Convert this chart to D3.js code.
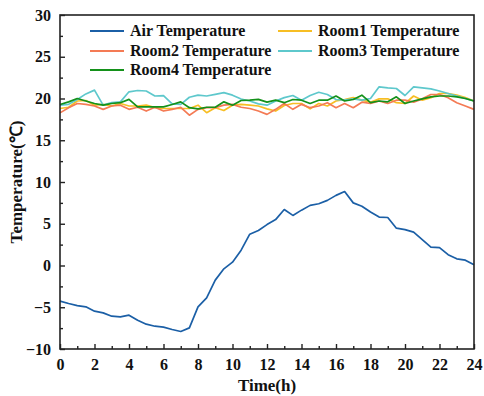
<!DOCTYPE html>
<html>
<head>
<meta charset="utf-8">
<script src="https://cdn.jsdelivr.net/npm/d3@7"></script>
<style>
  html, body { margin: 0; padding: 0; background: #fff; }
  svg { display: block; font-family: "Liberation Serif", "Times New Roman", serif; font-weight: bold; }
</style>
</head>
<body>
<svg id="chart" width="484" height="396"></svg>
<script>
// Half-hourly readings, 0 h to 24 h
const hours = d3.range(0, 24.01, 0.5);

const airTemp = [-4.27, -4.55, -4.8, -4.95, -5.47, -5.67, -6.07, -6.15, -5.95, -6.55,
  -7.03, -7.27, -7.38, -7.66, -7.9, -7.47, -4.95, -3.87, -1.75, -0.4,
  0.4, 1.84, 3.75, 4.2, 4.9, 5.5, 6.7, 6.0, 6.63, 7.2,
  7.4, 7.8, 8.4, 8.86, 7.5, 7.1, 6.4, 5.8, 5.75, 4.47,
  4.3, 4.0, 3.1, 2.2, 2.15, 1.3, 0.8, 0.64, 0.08];

const room1Temp = [18.8, 18.95, 19.7, 19.76, 19.2, 19.3, 19.1, 19.4, 19.1, 19.1,
  19.2, 18.9, 18.8, 18.8, 18.8, 18.8, 19.2, 18.3, 18.9, 18.56,
  19.2, 19.3, 19.2, 19.1, 18.76, 18.5, 19.16, 19.4, 19.4, 18.76,
  19.4, 19.1, 19.7, 19.88, 20.1, 19.8, 19.56, 19.96, 19.96, 19.5,
  19.4, 20.3, 19.8, 20.1, 20.6, 20.6, 20.4, 20.1, 19.7];

const room2Temp = [18.28, 18.9, 19.4, 19.3, 19.1, 18.7, 19.1, 19.2, 18.7, 18.95,
  18.5, 18.95, 18.5, 18.7, 18.95, 18.0, 18.7, 18.9, 18.9, 19.2,
  19.3, 18.95, 18.8, 18.5, 18.1, 18.7, 19.4, 18.7, 19.3, 18.9,
  19.1, 19.5, 18.9, 19.4, 18.9, 19.56, 19.4, 19.7, 19.4, 19.8,
  19.8, 19.56, 19.96, 20.48, 20.48, 20.1, 19.5, 19.1, 18.7];

const room3Temp = [19.2, 19.3, 19.88, 20.55, 21.0, 19.2, 19.5, 19.6, 20.8, 20.96,
  20.9, 20.3, 20.35, 19.36, 19.3, 20.15, 20.4, 20.3, 20.5, 20.7,
  20.4, 19.94, 19.7, 19.36, 19.2, 19.7, 20.1, 20.36, 19.8, 20.36,
  20.75, 20.48, 19.88, 19.8, 19.96, 19.8, 20.0, 21.4, 21.28, 21.2,
  20.36, 21.4, 21.28, 21.16, 20.9, 20.6, 20.3, 20.0, 19.7];

const room4Temp = [19.28, 19.6, 20.0, 19.7, 19.4, 19.2, 19.4, 19.5, 19.9, 19.0,
  19.0, 19.0, 19.0, 19.28, 19.6, 18.9, 18.76, 18.95, 18.95, 19.6,
  19.2, 19.76, 19.8, 19.9, 19.56, 19.8, 19.5, 19.88, 19.8, 19.4,
  19.8, 19.8, 20.3, 19.7, 19.88, 20.4, 19.5, 19.7, 19.6, 20.2,
  19.4, 19.7, 19.96, 20.2, 20.3, 20.3, 20.2, 20.0, 19.7];

const seriesNames = ["Air Temperature", "Room1 Temperature", "Room2 Temperature",
  "Room3 Temperature", "Room4 Temperature"];
const seriesColors = ["#1b5fa6", "#f7be24", "#f47b55", "#5ec8cc", "#14911a"];
const seriesValues = [airTemp, room1Temp, room2Temp, room3Temp, room4Temp];

const xTicks = d3.range(0, 25, 2);
const yTicks = d3.range(-10, 31, 5);

const svg = d3.select("#chart");
const margin = { left: 60, right: 10, top: 15, bottom: 47 };
const W = 484, H = 396;
const x = d3.scaleLinear().domain([0, 24]).range([margin.left, W - margin.right]);
const y = d3.scaleLinear().domain([-10, 30]).range([H - margin.bottom, margin.top]);

// Data lines (room series first, air temperature on top)
const line = d3.line().x((d, i) => x(hours[i])).y(d => y(d));
const order = [1, 2, 3, 4, 0];
order.forEach(k => {
  svg.append("path")
    .datum(seriesValues[k])
    .attr("fill", "none")
    .attr("stroke", seriesColors[k])
    .attr("stroke-width", 1.7)
    .attr("stroke-linejoin", "round")
    .attr("d", line);
});

// Frame
svg.append("rect")
  .attr("x", x(0)).attr("y", y(30))
  .attr("width", x(24) - x(0)).attr("height", y(-10) - y(30))
  .attr("fill", "none").attr("stroke", "#222").attr("stroke-width", 1.6);

// Bottom axis: inward major ticks with minor ticks between
const xAxis = d3.axisBottom(x).tickValues(xTicks).tickSize(-5).tickPadding(10)
  .tickFormat(d3.format("d"));
const gx = svg.append("g").attr("transform", `translate(0,${y(-10)})`).call(xAxis);
gx.select(".domain").remove();
gx.selectAll(".tick line").attr("stroke", "#222").attr("stroke-width", 1.4);
gx.selectAll(".tick text").attr("font-size", 16).attr("font-weight", "bold")
  .attr("fill", "#111").attr("font-family", "Liberation Serif, Times New Roman, serif");
const gxm = svg.append("g").attr("transform", `translate(0,${y(-10)})`)
  .call(d3.axisBottom(x).tickValues(d3.range(1, 24, 2)).tickSize(-3).tickFormat(""));
gxm.select(".domain").remove();
gxm.selectAll(".tick line").attr("stroke", "#222").attr("stroke-width", 1.4);

// Left axis
const yAxis = d3.axisLeft(y).tickValues(yTicks).tickSize(-5).tickPadding(9)
  .tickFormat(d3.format("d"));
const gy = svg.append("g").attr("transform", `translate(${x(0)},0)`).call(yAxis);
gy.select(".domain").remove();
gy.selectAll(".tick line").attr("stroke", "#222").attr("stroke-width", 1.4);
gy.selectAll(".tick text").attr("font-size", 16).attr("font-weight", "bold")
  .attr("fill", "#111").attr("font-family", "Liberation Serif, Times New Roman, serif");
const gym = svg.append("g").attr("transform", `translate(${x(0)},0)`)
  .call(d3.axisLeft(y).tickValues(d3.range(-7.5, 30, 5)).tickSize(-3).tickFormat(""));
gym.select(".domain").remove();
gym.selectAll(".tick line").attr("stroke", "#222").attr("stroke-width", 1.4);

// Axis titles
svg.append("text")
  .attr("x", (x(0) + x(24)) / 2).attr("y", 391)
  .attr("text-anchor", "middle").attr("font-size", 17).attr("fill", "#111")
  .text("Time(h)");
svg.append("text")
  .attr("transform", `translate(22,${(y(30) + y(-10)) / 2}) rotate(-90)`)
  .attr("text-anchor", "middle").attr("font-size", 17).attr("fill", "#111")
  .text("Temperature(℃)");

// Legend, two columns
const legendPos = [
  { lx: 90, ly: 31 }, { lx: 278, ly: 31 },
  { lx: 90, ly: 51 }, { lx: 278, ly: 51 },
  { lx: 90, ly: 70 }
];
const lg = svg.append("g");
seriesNames.forEach((name, i) => {
  const p = legendPos[i];
  lg.append("line")
    .attr("x1", p.lx).attr("x2", p.lx + 34)
    .attr("y1", p.ly).attr("y2", p.ly)
    .attr("stroke", seriesColors[i]).attr("stroke-width", 1.8);
  lg.append("text")
    .attr("x", p.lx + 40).attr("y", p.ly + 5)
    .attr("font-size", 16).attr("fill", "#111")
    .text(name);
});
</script>
</body>
</html>
